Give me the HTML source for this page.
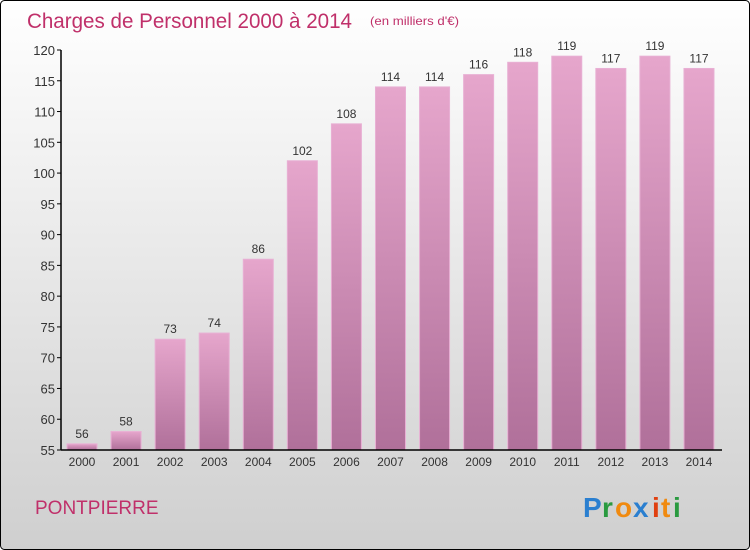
<!DOCTYPE html>
<html><head><meta charset="utf-8"><style>
body{margin:0;width:750px;height:550px;overflow:hidden}
svg{display:block}
text{font-family:"Liberation Sans",sans-serif}
</style></head><body>
<svg width="750" height="550">
<defs>
<linearGradient id="bg" x1="0" y1="0" x2="0" y2="1"><stop offset="0" stop-color="#ffffff"/><stop offset="1" stop-color="#cfcfcf"/></linearGradient>
<linearGradient id="bar" x1="0" y1="0" x2="0" y2="1"><stop offset="0" stop-color="#e6a6cc"/><stop offset="1" stop-color="#b0709a"/></linearGradient>
</defs>
<rect x="0.5" y="0.5" width="749" height="549" rx="4" fill="url(#bg)" stroke="#000"/>
<text x="27" y="28" font-size="21" fill="#c0306a" textLength="325" lengthAdjust="spacingAndGlyphs">Charges de Personnel 2000 à 2014</text>
<text x="370" y="25" font-size="12" fill="#c0306a" textLength="89" lengthAdjust="spacingAndGlyphs">(en milliers d'€)</text>
<g id="plot"></g>
<text x="35" y="514" font-size="19" fill="#c0306a">PONTPIERRE</text>
<g font-size="28" font-weight="bold">
<text x="583" y="517" fill="#2a7fd0">P</text><text x="602" y="517" fill="#2a9a40">r</text><text x="615" y="517" fill="#f08a10">o</text><text x="633" y="517" fill="#2a7fd0">x</text><text x="652" y="517" fill="#e04010">i</text><text x="661" y="517" fill="#f08a10">t</text><text x="673" y="517" fill="#2a9a40">i</text>
</g>
</svg>
<script>
const years=[2000,2001,2002,2003,2004,2005,2006,2007,2008,2009,2010,2011,2012,2013,2014];
const values=[56,58,73,74,86,102,108,114,114,116,118,119,117,119,117];
const yTicks=[55,60,65,70,75,80,85,90,95,100,105,110,115,120];
const NS='http://www.w3.org/2000/svg';
const g=document.getElementById('plot');
const y=v=>450-(v-55)*400/65;
const x=i=>82+i*44.07;
function mk(t,a){const e=document.createElementNS(NS,t);for(const k in a)e.setAttribute(k,a[k]);g.appendChild(e);return e;}
yTicks.forEach(t=>{
 const l=mk('line',{x1:57,x2:61,y1:y(t),y2:y(t),stroke:'#000'});
 
 
 const tx=mk('text',{x:55,y:y(t)+5,'text-anchor':'end','font-size':13,fill:'#333'});tx.textContent=t;
 
 
});
values.forEach((v,i)=>{
 const r=mk('rect',{x:x(i)-15,y:y(v),width:30,height:450-y(v),fill:'url(#bar)',stroke:'#e8b0d4','stroke-width':1});
 
 
 const vt=mk('text',{x:x(i),y:y(v)-6,'text-anchor':'middle','font-size':12,fill:'#333'});vt.textContent=v;
 
 
 const xt=mk('text',{x:x(i),y:466,'text-anchor':'middle','font-size':12,fill:'#333'});xt.textContent=years[i];
 
 
});
const ya=mk('line',{x1:61,x2:61,y1:y(120),y2:450.5,stroke:'#000','stroke-width':1.5});


const xa=mk('line',{x1:61,x2:722,y1:450,y2:450,stroke:'#000','stroke-width':1.5});


</script>
</body></html>
